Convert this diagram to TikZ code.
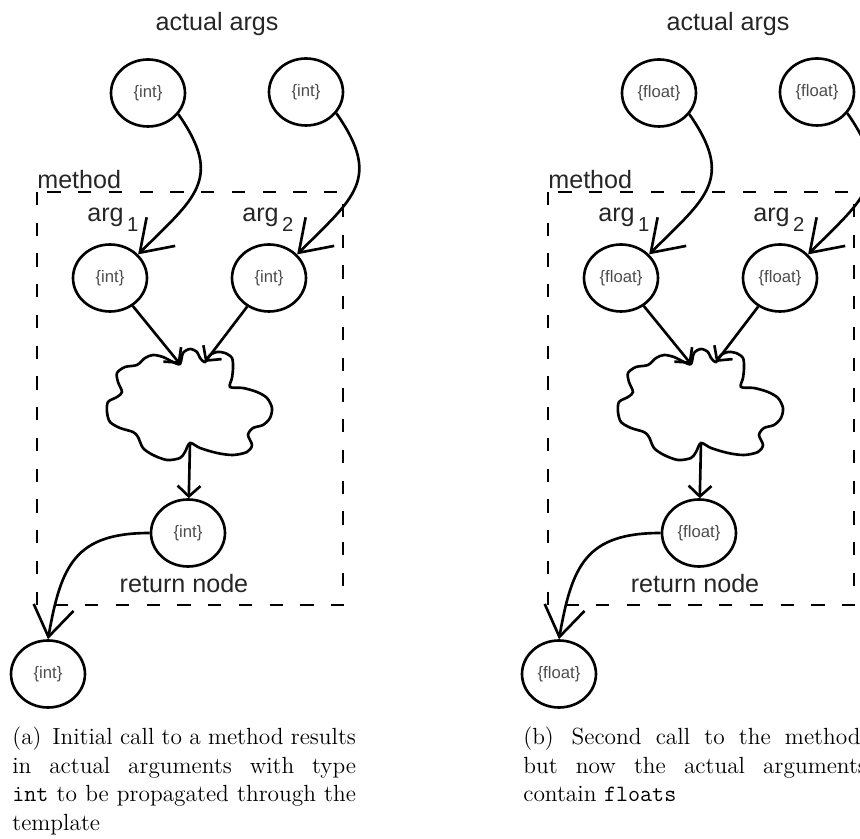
\documentclass[tikz,border=0pt]{standalone}
\usepackage{fontspec}
\setsansfont{Liberation Sans}
\usetikzlibrary{shapes.geometric, arrows.meta, positioning}

\newcommand{\argsub}[1]{arg\hspace{2pt}\raisebox{-5.5pt}{\fontsize{11.5}{12}\selectfont #1}}

\tikzset{
  typenode/.style={ellipse, draw, line width=1.5pt, minimum width=1.48cm, minimum height=1.34cm,
    inner sep=0pt, text=black!70, font=\sffamily\fontsize{9.5}{11}\selectfont},
  lbl/.style={inner sep=0pt, text=black!85, font=\sffamily\fontsize{14.3}{16}\selectfont},
  flow/.style={line width=1.5pt, -{Straight Barb[length=17pt,width=23pt]}},
  flowsmall/.style={line width=1.5pt, -{Straight Barb[length=6pt,width=13pt]}},
  methodbox/.style={line width=1.7pt, dash pattern=on 7.5pt off 10pt},
  capt/.style={anchor=base west, inner sep=0pt, text width=195.6pt, align=justify,
    font=\fontsize{13.3}{16.2}\selectfont}
}

\begin{document}
\begin{tikzpicture}[x=0.02cm, y=0.02cm]
\clip (0,0) rectangle (860,839);
% one panel per call
\foreach \p/\dx/\ty in {a/0/int, b/511/float} {
\begin{scope}[shift={(\dx,0)}]
  \node[lbl, anchor=base] (title-\p) at (217,808) {actual args};
  \node[typenode] (in1-\p) at (148,746) {\{\ty\}};
  \node[typenode] (in2-\p) at (306,747) {\{\ty\}};
  % method body
  \draw[methodbox] (37,647) rectangle (343,234);
  \node[lbl, anchor=base west] (method-\p) at (37,650) {method};
  \node[typenode] (par1-\p) at (110,561) {\{\ty\}};
  \node[typenode] (par2-\p) at (269,561) {\{\ty\}};
  \node[lbl, anchor=base west] (arg1-\p) at (87,617) {\argsub{1}};
  \node[lbl, anchor=base west] (arg2-\p) at (242,617) {\argsub{2}};
  % cloud
  \draw[line width=1.5pt] plot[smooth cycle, tension=0.5] coordinates {
    (180,475) (183,486) (190,490) (197,487) (200,481) (205,477) (210,484) (217,487)
    (225,486) (232,481) (233,471) (232,461) (230,452) (243,451) (257,447) (267,441)
    (272,431) (270,421) (263,414) (253,411) (248,404) (252,394) (247,387) (233,384)
    (217,386) (200,391) (190,396) (185,387) (180,381) (167,379) (153,384) (143,391)
    (138,402) (133,407) (120,411) (110,417) (107,427) (108,437) (117,442) (122,447)
    (118,457) (117,466) (125,472) (137,474) (145,481) (153,484) (163,482) (173,477)};
  \coordinate (cl-\p) at (180,475);
  \coordinate (cr-\p) at (205,477);
  \coordinate (cb-\p) at (190,396);
  \node[typenode] (ret-\p) at (188,306) {\{\ty\}};
  \node[lbl, anchor=base] (retlbl-\p) at (184,246) {return node};
  \node[typenode] (out-\p) at (48,165) {\{\ty\}};
  % connectors
  \draw[flow] (in1-\p.-35) to[out=-55, in=45, looseness=1.4] (par1-\p.40);
  \draw[flow] (in2-\p.-35) to[out=-55, in=45, looseness=1.4] (par2-\p.40);
  \draw[flowsmall] (par1-\p) -- (cl-\p);
  \draw[flowsmall] (par2-\p) -- (cr-\p);
  \draw[flowsmall] (cb-\p) -- (ret-\p);
  \draw[flow] (ret-\p.west) to[out=180, in=80, looseness=1.3] (out-\p.north);
\end{scope}
}
\node[capt] (capa) at (12,94) {(a)\hspace{2pt} Initial call to a method results\linebreak in actual arguments with type\linebreak \texttt{int} to be propagated through the\linebreak template};
\node[capt] (capb) at (523,94) {(b)\hspace{2pt} Second call to the method,\linebreak but now the actual arguments\linebreak contain \texttt{floats}};
\end{tikzpicture}
\end{document}
